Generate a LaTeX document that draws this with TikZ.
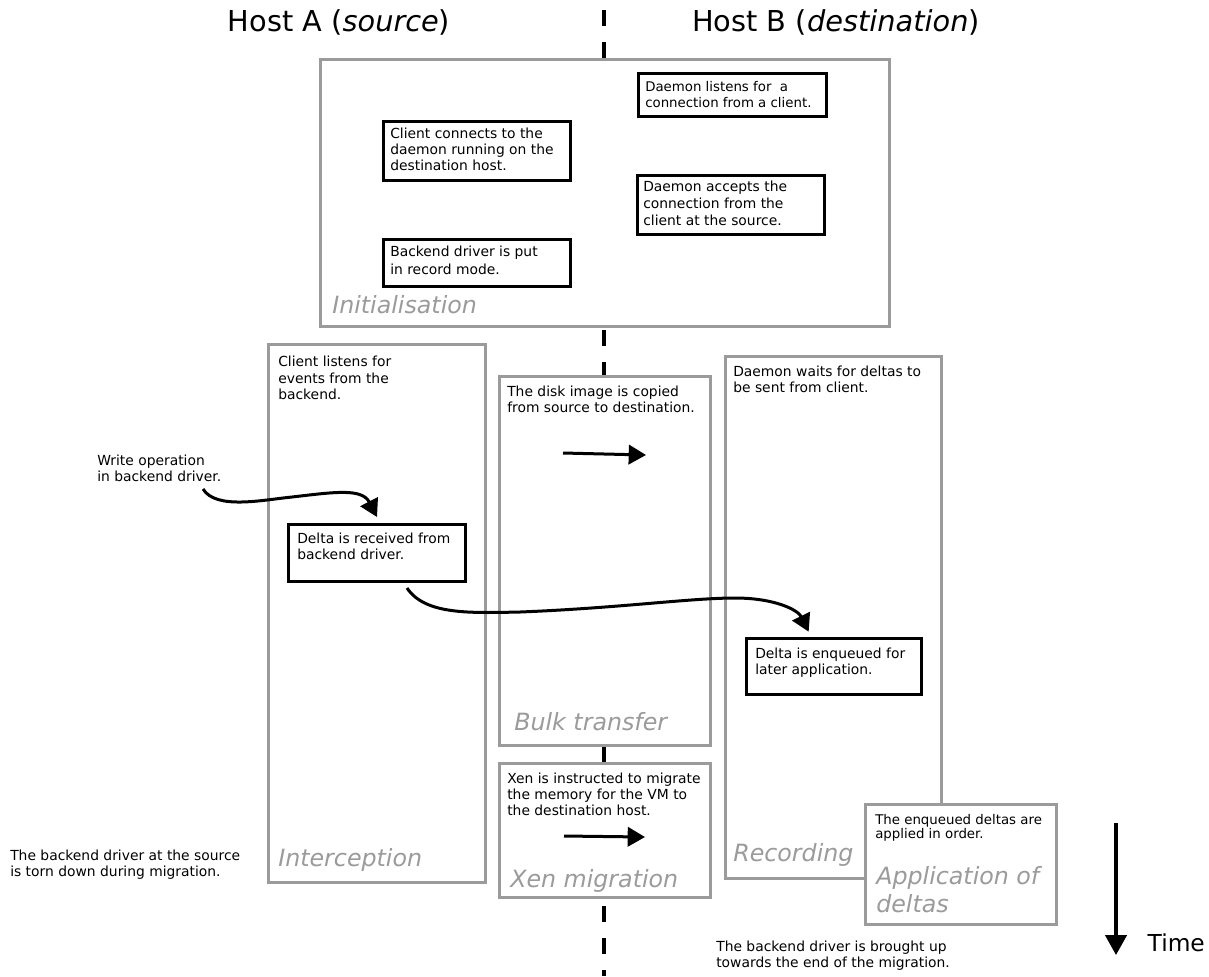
\documentclass[tikz,border=0pt]{standalone}
\usepackage{fontspec}
\setmainfont{DejaVu Sans}
\usetikzlibrary{arrows.meta}
\definecolor{phasegray}{HTML}{9B9B9B}
\tikzset{
	phase/.style={draw=phasegray, line width=2.25pt, fill=white, anchor=north west, inner sep=0pt},
	event/.style={draw=black, line width=2.25pt, fill=white, anchor=north west, inner sep=0pt},
	note/.style={anchor=north west, align=left, inner sep=0pt, font=\fontsize{10.4}{11.8}\selectfont},
	phaselabel/.style={anchor=base west, inner sep=0pt, align=left, text=phasegray, font=\fontsize{17.8}{20.5}\selectfont\itshape},
	flow/.style={line width=2.25pt, -{Triangle[length=13pt,width=14.5pt]}},
}
\begin{document}
\begin{tikzpicture}[x=0.75pt, y=-0.75pt]
			\useasboundingbox (0,0) rectangle (1209,976);
			
			% the line between the two hosts
			\coordinate (divtop) at (604,10);
			\coordinate (divbot) at (604,976);
			\draw[line width=3pt, dash pattern=on 12pt off 12pt] (divtop) -- (divbot);
			
			\node[anchor=base, font=\fontsize{21.6}{25}\selectfont] (hostA) at (339,31) {Host A (\textit{source})};
			\node[anchor=base, font=\fontsize{21.6}{25}\selectfont] (hostB) at (836,31) {Host B (\textit{destination})};
			
			% initialisation
			\node[phase, minimum width=426.75pt, minimum height=200.25pt] (init) at (319,58) {};
			\node[event, minimum width=141pt, minimum height=32.25pt] (listenbox) at (637,72) {};
			\node[note, font=\fontsize{10}{12}\selectfont] (listen) at (645,81) {Daemon listens for\ \ a\\connection from a client.};
			\node[event, minimum width=140.25pt, minimum height=44.25pt] (connectbox) at (382,120) {};
			\node[note] (connect) at (390,128) {Client connects to the\\daemon running on the\\destination host.};
			\node[event, minimum width=140.25pt, minimum height=44.25pt] (acceptbox) at (636,174) {};
			\node[note, font=\fontsize{10.4}{12.6}\selectfont] (accept) at (643,181) {Daemon accepts the\\connection from the\\client at the source.};
			\node[event, minimum width=140.25pt, minimum height=35.25pt] (recordbox) at (382,238) {};
			\node[note, font=\fontsize{10.4}{13}\selectfont] (record) at (390,246) {Backend driver is put\\in record mode.};
			\node[phaselabel] (initlabel) at (332,313) {Initialisation};
			
			% interception
			\node[phase, minimum width=162.75pt, minimum height=403.5pt] (intercept) at (267,343) {};
			\node[note, font=\fontsize{10.4}{12.3}\selectfont] (listens) at (278,356) {Client listens for\\events from the\\backend.};
			\node[event, minimum width=132.75pt, minimum height=42.75pt] (receivedbox) at (287,523) {};
			\node[note] (received) at (297,533) {Delta is received from\\backend driver.};
			\node[phaselabel] (interceptlabel) at (278,866) {Interception};
			
			% bulk transfer
			\node[phase, minimum width=158.25pt, minimum height=276.75pt] (bulk) at (498,375) {};
			\node[note] (copied) at (507,386) {The disk image is copied\\from source to destination.};
			\node[phaselabel] (bulklabel) at (514,730) {Bulk transfer};
			
			% xen migration
			\node[phase, minimum width=158.25pt, minimum height=100.5pt] (xen) at (498,762) {};
			\node[note] (instructed) at (507,773) {Xen is instructed to migrate\\the memory for the VM to\\the destination host.};
			\node[phaselabel] (xenlabel) at (510,887) {Xen migration};
			
			% recording
			\node[phase, minimum width=162pt, minimum height=391.5pt] (recording) at (724,355) {};
			\node[note] (waits) at (733,366) {Daemon waits for deltas to\\be sent from client.};
			\node[event, minimum width=131.25pt, minimum height=42pt] (enqueuedbox) at (745,637) {};
			\node[note] (enqueued) at (755,648) {Delta is enqueued for\\later application.};
			\node[phaselabel] (recordinglabel) at (733,861) {Recording};
			
			% application of deltas
			\node[phase, minimum width=143.25pt, minimum height=90pt] (apply) at (864,803) {};
			\node[note, font=\fontsize{10}{9}\selectfont] (applied) at (875,814) {The enqueued deltas are\\applied in order.};
			\node[phaselabel] (applylabel) at (876,912) {Application of\\deltas};
			
			% side notes
			\node[note] (write) at (97,455) {Write operation\\in backend driver.};
			\node[note, font=\fontsize{10.4}{12}\selectfont] (torn) at (10,850) {The backend driver at the source\\is torn down during migration.};
			\node[note] (brought) at (716,941) {The backend driver is brought up\\towards the end of the migration.};
			
			% arrows
			\coordinate (writeout) at (203,489);
			\draw[flow] (writeout) .. controls (216,510) and (262,500) .. (292,497) .. controls (335,492) and (362,488) .. ([yshift=4.5pt]receivedbox.north);
			\coordinate (receivedout) at (407,588);
			\draw[flow] (receivedout) .. controls (425,615) and (470,613) .. (520,612) .. controls (620,608) and (690,598) .. (735,598) .. controls (775,598) and (798,610) .. ([xshift=-19pt,yshift=4pt]enqueuedbox.north);
			\coordinate (bulkfrom) at (563,453);
			\coordinate (bulkto) at (646,455);
			\draw[flow] (bulkfrom) -- (bulkto);
			\coordinate (xenfrom) at (564,836);
			\coordinate (xento) at (645,837);
			\draw[flow] (xenfrom) -- (xento);
			
			% time
			\coordinate (timetop) at (1116,823);
			\coordinate (timebot) at (1116,955);
			\draw[line width=2.6pt, -{Triangle[length=15pt,width=16pt]}] (timetop) -- (timebot);
			\node[anchor=base west, font=\fontsize{17.5}{20}\selectfont] (time) at (1143,951) {Time};
		\end{tikzpicture}
\end{document}
